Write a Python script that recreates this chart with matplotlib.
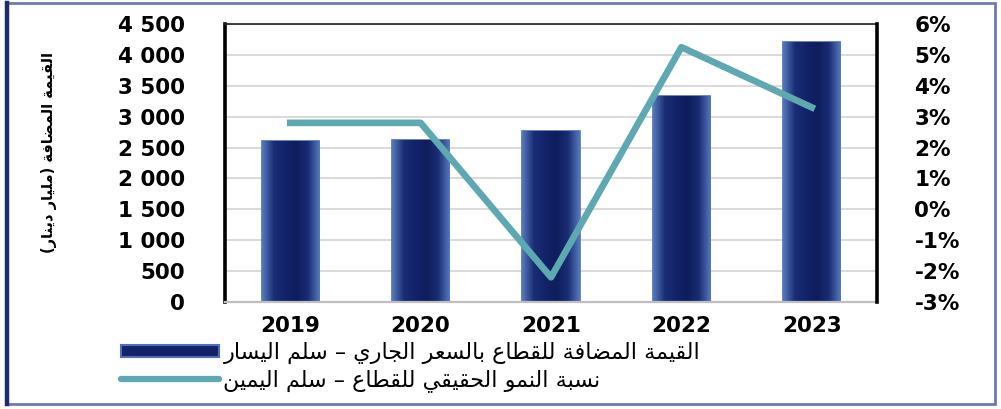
import numpy as np
import matplotlib
matplotlib.use("Agg")
import matplotlib.pyplot as plt
from matplotlib.patches import Patch, Rectangle
from matplotlib.lines import Line2D
from matplotlib.ticker import FuncFormatter, MultipleLocator
from matplotlib.colors import LinearSegmentedColormap

years = ["2019", "2020", "2021", "2022", "2023"]
value_added = [2606, 2627, 2773, 3335, 4214]      # billion dinars, left axis
real_growth = [2.8, 2.8, -2.2, 5.25, 3.3]         # percent, right axis

label_bars = "القيمة المضافة للقطاع بالسعر الجاري – سلم اليسار"
label_line = "نسبة النمو الحقيقي للقطاع – سلم اليمين"
label_yaxis = "القيمة المضافة (مليار دينار)"

NAVY = "#13236a"
NAVY_EDGE = "#4f6fb3"
TEAL = "#5ea8b1"

# presentation form base code (isolated) and whether the letter joins forward
ARABIC_FORMS = {
    "ا": (0xFE8D, False), "ب": (0xFE8F, True), "ة": (0xFE93, False),
    "ت": (0xFE95, True), "ج": (0xFE9D, True), "ح": (0xFEA1, True),
    "د": (0xFEA9, False), "ر": (0xFEAD, False), "س": (0xFEB1, True),
    "ض": (0xFEBD, True), "ط": (0xFEC1, True), "ع": (0xFEC9, True),
    "ف": (0xFED1, True), "ق": (0xFED5, True), "ل": (0xFEDD, True),
    "م": (0xFEE1, True), "ن": (0xFEE5, True), "و": (0xFEED, False),
    "ي": (0xFEF1, True),
}


def shape_arabic(text):
    """Contextual shaping + reversal so matplotlib draws Arabic right-to-left."""
    out = []
    for i, ch in enumerate(text):
        if ch not in ARABIC_FORMS:
            out.append(ch)
            continue
        base, dual = ARABIC_FORMS[ch]
        prev = text[i - 1] if i > 0 else ""
        nxt = text[i + 1] if i + 1 < len(text) else ""
        join_prev = prev in ARABIC_FORMS and ARABIC_FORMS[prev][1]
        join_next = dual and nxt in ARABIC_FORMS
        if join_prev and join_next:
            out.append(chr(base + 3))
        elif join_prev:
            out.append(chr(base + 1))
        elif join_next:
            out.append(chr(base + 2))
        else:
            out.append(chr(base))
    visual = "".join(reversed(out))
    return visual.translate(str.maketrans("()", ")("))


plt.rcParams["font.family"] = ["DejaVu Sans"]

fig = plt.figure(figsize=(10.01, 4.09), dpi=100)
ax = fig.add_axes([0.2248, 0.2616, 0.6513, 0.6797])
ax2 = ax.twinx()

x = np.arange(len(years))
bars = ax.bar(x, value_added, width=0.44, color=NAVY, edgecolor=NAVY_EDGE,
              linewidth=1.2, zorder=2)

# shade each bar lighter at the edges for a rounded look
shade = LinearSegmentedColormap.from_list(
    "bar_shade", ["#5577bb", "#1a2d74", NAVY, "#0f1d5c", "#1a2d74", "#5577bb"])
grad = np.linspace(0, 1, 64).reshape(1, -1)
for rect in bars:
    x0, w, h = rect.get_x(), rect.get_width(), rect.get_height()
    im = ax.imshow(grad, cmap=shade, aspect="auto", extent=(x0, x0 + w, 0, h),
                   zorder=2.1)
    im.set_clip_path(rect)

ax.set_xlim(-0.5, len(years) - 0.5)
ax.set_ylim(0, 4500)
ax.yaxis.set_major_locator(MultipleLocator(500))
ax.yaxis.set_major_formatter(FuncFormatter(lambda v, _: f"{v:,.0f}".replace(",", " ")))
ax.grid(axis="y", color="#d9d9d9", linewidth=1.4)
ax.set_axisbelow(True)
ax.set_xticks(x)
ax.set_xticklabels(years)

ax2.plot(x, real_growth, color=TEAL, linewidth=4.8, zorder=3)
ax2.set_ylim(-3, 6)
ax2.yaxis.set_major_locator(MultipleLocator(1))
ax2.yaxis.set_major_formatter(FuncFormatter(lambda v, _: f"{v:.0f}%"))

for a in (ax, ax2):
    a.tick_params(length=0, labelsize=15.5)
    for lbl in a.get_xticklabels() + a.get_yticklabels():
        lbl.set_fontweight("bold")
ax.tick_params(axis="y", pad=29)
ax.tick_params(axis="x", pad=10)
ax2.tick_params(axis="y", pad=27)

ax.spines["left"].set(color="black", linewidth=2.6)
ax.spines["top"].set(color="#222222", linewidth=1.2)
ax.spines["bottom"].set(color="#bfbfbf", linewidth=1.6)
ax.spines["right"].set_visible(False)
for side in ("left", "top", "bottom"):
    ax2.spines[side].set_visible(False)
ax2.spines["right"].set(color="black", linewidth=2.6)

fig.text(0.049, 0.628, shape_arabic(label_yaxis), rotation=90,
         ha="center", va="center", fontsize=10.5, fontweight="bold")

handles = [
    Patch(facecolor=NAVY, edgecolor=NAVY_EDGE, linewidth=1.5),
    Line2D([0], [0], color=TEAL, linewidth=4.5, solid_capstyle="round"),
]
fig.legend(handles, [shape_arabic(label_bars), shape_arabic(label_line)],
           loc="center left", bbox_to_anchor=(0.11, 0.103), frameon=False,
           fontsize=16, handlelength=4.4, handleheight=0.45,
           handletextpad=0.2, labelspacing=0.2, borderpad=0)

# outer frame of the figure
fig.patches.append(Rectangle((0.006, 0.012), 0.988, 0.98, transform=fig.transFigure,
                             fill=False, edgecolor="#6a7ab2", linewidth=2))
fig.add_artist(Line2D([0.0065, 0.0065], [0.012, 0.992], transform=fig.transFigure,
                      color="#1c2c6c", linewidth=3.2))

fig.savefig("out.png", dpi=100)
